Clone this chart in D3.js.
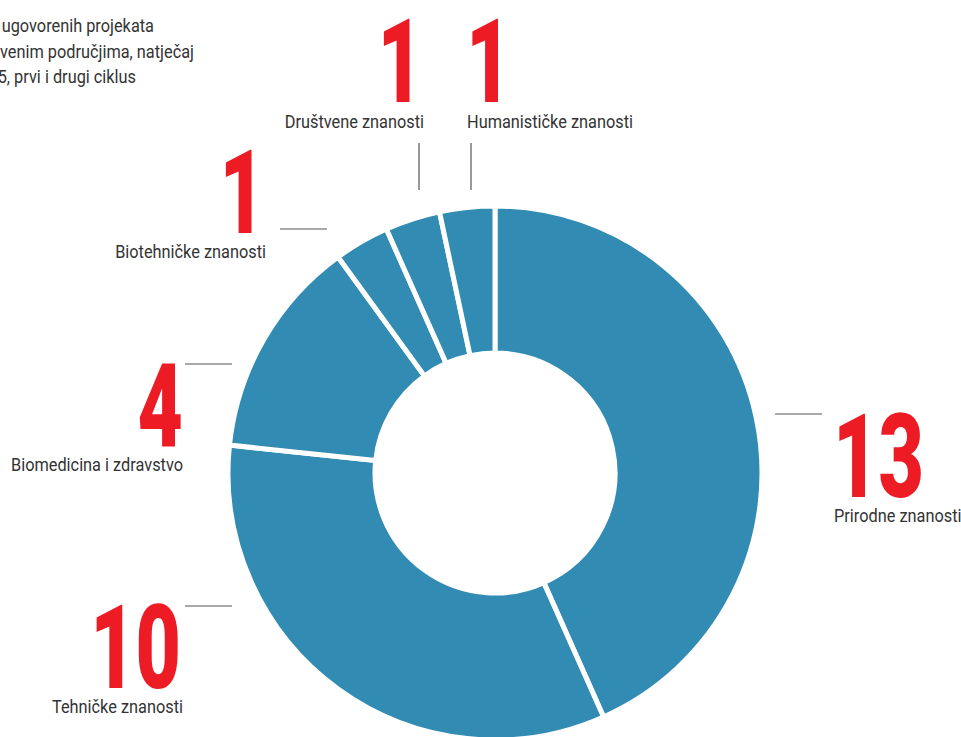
<!DOCTYPE html>
<html>
<head>
<meta charset="utf-8">
<script src="https://cdn.jsdelivr.net/npm/d3@7"></script>
<style>
  html, body { margin: 0; padding: 0; background: #fff; overflow: hidden; }
  svg { display: block; }
</style>
</head>
<body>
<svg id="chart" width="961" height="737"></svg>
<script>
// ---- data ----
const categories = ["Prirodne znanosti", "Tehničke znanosti", "Biomedicina i zdravstvo",
                    "Biotehničke znanosti", "Društvene znanosti", "Humanističke znanosti"];
const values = [13, 10, 4, 1, 1, 1];
const titleLines = ["Broj ugovorenih projekata", "po znanstvenim područjima, natječaj", "2015, prvi i drugi ciklus"];

// ---- layout (label placement per slice) ----
const layout = [
  { num: [833, 497, "start"], lab: [834, 522, "start"], line: [[775, 414], [822, 414]] },
  { num: [181, 688, "end"],   lab: [183, 713, "end"],   line: [[185, 606], [232, 606]] },
  { num: [183, 447, "end"],   lab: [183, 471, "end"],   line: [[185, 364], [232, 364]] },
  { num: [265, 233, "end"],   lab: [266, 258, "end"],   line: [[280, 229], [327, 229]] },
  { num: [423, 102, "end"],   lab: [424, 128, "end"],   line: [[419, 143], [419, 190]] },
  { num: [466, 102, "start"], lab: [467, 128, "start"], line: [[471, 143], [471, 190]] }
];

const svg = d3.select("#chart");
const cx = 495, cy = 473, rOuter = 267, rInner = 120;
const blue = "#318bb3", red = "#ed1c24", textCol = "#333";
const font = "Roboto, 'DejaVu Sans', sans-serif";
const labScale = 0.86, numScale = 0.67;

const pie = d3.pie().sort(null).value(d => d)(values);
const arc = d3.arc().innerRadius(rInner).outerRadius(rOuter);

const g = svg.append("g").attr("transform", `translate(${cx},${cy})`);
g.selectAll("path").data(pie).join("path")
  .attr("d", arc)
  .attr("fill", blue)
  .attr("stroke", "#fff")
  .attr("stroke-width", 5)
  .attr("stroke-linejoin", "miter");

// title (partly cut off at left edge)
const titleEnds = [154, 194, 136];
svg.append("g").selectAll("text").data(titleLines).join("text")
  .attr("transform", (d, i) => `translate(${titleEnds[i]},${32 + i * 25.5}) scale(${labScale},1)`)
  .attr("text-anchor", "end")
  .attr("font-family", font)
  .attr("font-size", 19)
  .attr("fill", textCol)
  .text(d => d);

// leader lines
svg.append("g").selectAll("line").data(layout).join("line")
  .attr("x1", d => d.line[0][0]).attr("y1", d => d.line[0][1])
  .attr("x2", d => d.line[1][0]).attr("y2", d => d.line[1][1])
  .attr("stroke", "#555").attr("stroke-width", 1.2);

// big numbers
svg.append("g").selectAll("text").data(values).join("text")
  .attr("transform", (d, i) => `translate(${layout[i].num[0]},${layout[i].num[1]}) scale(${numScale},1)`)
  .attr("text-anchor", (d, i) => layout[i].num[2])
  .attr("font-family", font)
  .attr("font-weight", 900)
  .attr("font-size", 117)
  .attr("fill", red)
  .text(d => d);

// category labels
svg.append("g").selectAll("text").data(categories).join("text")
  .attr("transform", (d, i) => `translate(${layout[i].lab[0]},${layout[i].lab[1]}) scale(${labScale},1)`)
  .attr("text-anchor", (d, i) => layout[i].lab[2])
  .attr("font-family", font)
  .attr("font-size", 19)
  .attr("fill", textCol)
  .text(d => d);
</script>
</body>
</html>
